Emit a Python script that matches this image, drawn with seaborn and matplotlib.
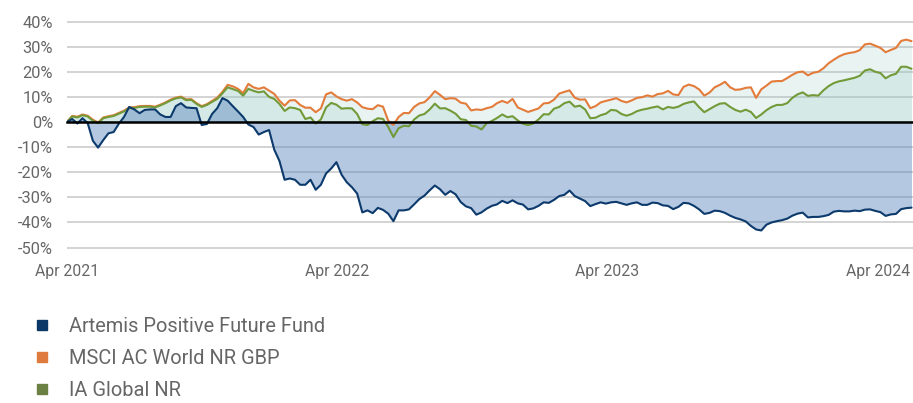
import matplotlib
matplotlib.use("Agg")
import numpy as np
import pandas as pd
import matplotlib.pyplot as plt
import matplotlib.dates as mdates
from matplotlib.lines import Line2D
import seaborn as sns

# ---------------- data ----------------
start_date = "2021-04-01"
n_weeks = 164

artemis = [
    0, 1.2, -0.6, 1.5, -0.5, -7.5, -10.2, -7.2, -4.5, -4,
    -0.7, 2, 6, 5, 3.5, 4.8, 5, 5, 3, 2,
    2, 6.3, 7.5, 5.8, 5.6, 5.5, -1.2, -0.8, 3.2, 5.5,
    9.5, 8.5, 6.3, 4.2, 2, -1, -2, -5, -4, -3.2,
    -11, -15.5, -23, -22.5, -23, -25, -25, -23, -27, -25,
    -20.5, -18.5, -16, -21, -24, -26, -28.5, -36, -35.2, -36.3,
    -34.2, -35, -36.5, -39.5, -35.2, -35.2, -34.8, -32.8, -30.7, -29.3,
    -27.2, -25.3, -26.8, -29, -27.5, -28.8, -31.9, -33.6, -34.3, -36.9,
    -36, -34.5, -33.4, -32.8, -31.4, -32.3, -31.2, -32.4, -32.9, -34.8,
    -34.4, -33.4, -32, -32.2, -31, -29.5, -29, -27.3, -29.5, -30.5,
    -31.5, -33.5, -32.7, -32, -32.5, -32, -31.8, -32.4, -33, -32.4,
    -32, -33, -33, -32.1, -32.3, -33.2, -33.4, -34.7, -33.8, -32.2,
    -32.4, -33.4, -34.8, -36.6, -36.2, -35.3, -35.5, -36.2, -37.3, -38.2,
    -38.8, -39.6, -41.4, -42.8, -43.2, -40.9, -40, -39.5, -39.1, -38.5,
    -37.3, -36.5, -36.1, -38, -37.8, -37.8, -37.5, -37, -35.7, -35.4,
    -35.6, -35.6, -35.3, -35.5, -34.9, -34.8, -35.4, -35.9, -37.4, -36.8,
    -36.6, -34.7, -34.3, -34.1,
]

msci = [
    0, 2.4, 2.1, 3.0, 2.5, 0.9, -0.2, 1.8, 2.3, 2.7,
    3.6, 4.5, 5.8, 5.9, 6.3, 6.4, 6.4, 6.1, 6.9, 7.8,
    8.9, 9.7, 10.1, 9.0, 9.1, 7.5, 6.3, 7.1, 8.4, 9.7,
    12, 14.8, 14.2, 13.2, 11.5, 15.2, 13.8, 13.2, 13.8, 12.5,
    11.2, 8.5, 6.5, 8.6, 8.7, 6.8, 5.7, 5.7, 3.9, 5.4,
    11, 11.8, 10.2, 9.1, 8.5, 9.1, 7.8, 5.9, 5.3, 5.1,
    6.7, 6.1, 0.5, -1.2, 2, 3.6, 3.5, 6, 7.4, 7.9,
    9.8, 12.3, 10.8, 9.1, 9.5, 9.3, 7.7, 7.3, 4.6, 5,
    4.8, 5.5, 6, 7.5, 8.4, 7.6, 9.2, 5.8, 4.9, 4,
    4.7, 5.4, 7.4, 7.6, 8.9, 11.3, 12, 12.6, 9.7, 8.9,
    9, 5.5, 6.3, 7.8, 8.4, 8.9, 9.5, 8.4, 7.8, 8.6,
    9.6, 9.9, 10.6, 10.1, 11.1, 11.4, 12.4, 11, 10.7, 14,
    14.9, 14.3, 13, 10.5, 11.7, 13.8, 14.8, 16, 13.8, 12.8,
    13, 13.6, 13.8, 9.6, 13, 14.5, 16.1, 16.3, 16.3, 17.5,
    18.8, 19.8, 20.1, 18.6, 19.6, 20, 21.4, 23.4, 24.8, 26.1,
    27, 27.5, 27.8, 28.6, 30.9, 31.2, 30.4, 29.5, 27.8, 28.7,
    29.5, 32.3, 32.8, 32.2,
]

ia_global = [
    0, 2.2, 1.8, 2.7, 2.2, 0.5, -0.5, 1.5, 2, 2.4,
    3.3, 4.2, 5.5, 5.6, 6, 6.1, 6.1, 5.8, 6.6, 7.5,
    8.6, 9.4, 9.8, 8.7, 8.8, 7.2, 6, 6.8, 8, 9.2,
    11.4, 13.8, 13.1, 12.4, 10.5, 13.2, 12.4, 11.8, 12.2, 10,
    9.2, 7.2, 4.4, 5.8, 5.5, 4.8, 1.2, 1.8, -0.6, 1,
    5.8, 7.6, 6.9, 5.3, 5.5, 5.4, 3.2, -0.9, -1.2, 0.3,
    1.5, 1.2, -2, -6, -2.5, -1.5, -1.7, 1, 2.6, 3.2,
    5, 7.3, 5.4, 5.5, 4.5, 3.3, 1.1, 0.8, -1.5, -1.8,
    -3, -0.5, 0.4, 1.6, 3, 1.9, 2.3, 0.6, -0.7, -1.2,
    -0.6, 1, 3.1, 3, 5.3, 6, 7.5, 8.1, 6.1, 6.5,
    5, 1.5, 1.7, 2.7, 3.3, 4.8, 4.6, 3.2, 2.5, 3.2,
    4.3, 4.9, 5.3, 5.8, 6.2, 5, 6, 5.6, 6.1, 7.2,
    7.8, 8.2, 5.9, 3.9, 5.1, 6.3, 7.3, 7.5, 6, 4.8,
    4.1, 4.9, 4, 1.6, 3, 4.7, 6, 6.8, 6.8, 7.5,
    9.6, 11, 11.8, 10.4, 10.7, 10.5, 12.6, 14.3, 15.5, 16.2,
    16.6, 17.1, 17.6, 18.4, 20.5, 21, 20, 19.5, 17.4, 18.6,
    19.2, 22, 22, 21.2,
]

series_names = ["Artemis Positive Future Fund", "MSCI AC World NR GBP", "IA Global NR"]
y_ticks = [40, 30, 20, 10, 0, -10, -20, -30, -40, -50]
x_tick_dates = ["2021-04-01", "2022-04-01", "2023-04-01", "2024-04-01"]
x_tick_labels = ["Apr 2021", "Apr 2022", "Apr 2023", "Apr 2024"]

# ---------------- styling ----------------
col_artemis = "#0c3a6c"
col_msci = "#e37b3a"
col_ia = "#739a38"
legend_cols = ["#0c3868", "#e07b3f", "#6b8043"]
text_col = "#666666"

sns.set_style("white")
plt.rcParams["font.family"] = ["Roboto", "DejaVu Sans"]

dates = pd.date_range(start_date, periods=n_weeks, freq="7D")
df = pd.DataFrame({
    "date": np.tile(dates, 3),
    "value": artemis + msci + ia_global,
    "series": np.repeat(series_names, n_weeks),
})

fig = plt.figure(figsize=(9.13, 4.03), dpi=100)
ax = fig.add_axes([67 / 913, 1 - 248.8 / 403, 1 - 67 / 913, (248.8 - 20.3) / 403])

fill_col = (0.55, 0.78, 0.75)
ax.fill_between(dates, 0, msci, color=fill_col, alpha=0.2, lw=0, zorder=1)
ax.fill_between(dates, 0, ia_global, color=fill_col, alpha=0.2, lw=0, zorder=1.1)
ax.fill_between(dates, 0, artemis, color="#5b86bd", alpha=0.45, lw=0, zorder=1.2)

for name, c, z in [(series_names[1], col_msci, 2), (series_names[2], col_ia, 3), (series_names[0], col_artemis, 4)]:
    sns.lineplot(data=df[df["series"] == name], x="date", y="value", color=c,
                 linewidth=1.5, ax=ax, legend=False, zorder=z)

ax.set_ylim(-50.5, 40.5)
ax.set_xlim(dates[0], dates[-1] + pd.Timedelta(days=2))
ax.set_yticks(y_ticks)
ax.set_yticklabels([f"{v}%" for v in y_ticks])
ax.set_xticks(pd.to_datetime(x_tick_dates))
ax.set_xticklabels(x_tick_labels)
ax.set_xlabel("")
ax.set_ylabel("")

ax.yaxis.grid(True, color="#cccccc", linewidth=1.2, zorder=0)
ax.xaxis.grid(False)
ax.set_axisbelow(True)

for s in ["top", "right", "left"]:
    ax.spines[s].set_visible(False)
ax.spines["bottom"].set_position(("data", 0))
ax.spines["bottom"].set_color("black")
ax.spines["bottom"].set_linewidth(1.8)
ax.spines["bottom"].set_zorder(5)

ax.tick_params(axis="y", length=0, labelsize=11.8, labelcolor=text_col, pad=10)
ax.tick_params(axis="x", length=4, width=1.5, color="black", direction="out",
               labelsize=11.3, labelcolor=text_col, pad=98)

handles = [Line2D([], [], marker="s", linestyle="none", markersize=7.5, color=c) for c in legend_cols]
fig.legend(handles, series_names, loc="upper left", bbox_to_anchor=(0.024, 0.213),
           frameon=False, fontsize=14.4, labelcolor=text_col, handletextpad=0.35,
           labelspacing=0.64, borderaxespad=0, borderpad=0)

fig.savefig("out.png", dpi=100)
